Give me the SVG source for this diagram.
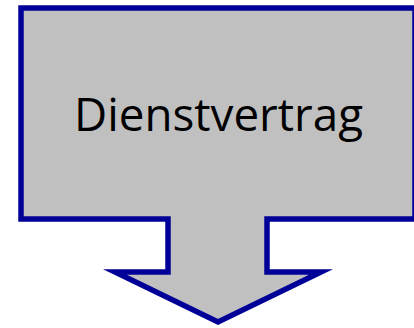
<svg xmlns="http://www.w3.org/2000/svg" width="414" height="328" viewBox="0 0 414 328">
<style>
.shape{fill:#C0C0C0;stroke:#000099;stroke-width:5.5;stroke-linejoin:miter;stroke-miterlimit:10}
.lbl{font-family:"Open Sans","Liberation Sans",sans-serif;font-size:46px;fill:#000}
</style>
<g id="callout">
<path class="shape" d="M21,8 H415 V219 H267 V272 H321 L218,322 L115,272 H168 V219 H21 Z"/>
<text class="lbl" x="218.5" y="131" text-anchor="middle" textLength="289" lengthAdjust="spacingAndGlyphs">Dienstvertrag</text>
</g>
</svg>
